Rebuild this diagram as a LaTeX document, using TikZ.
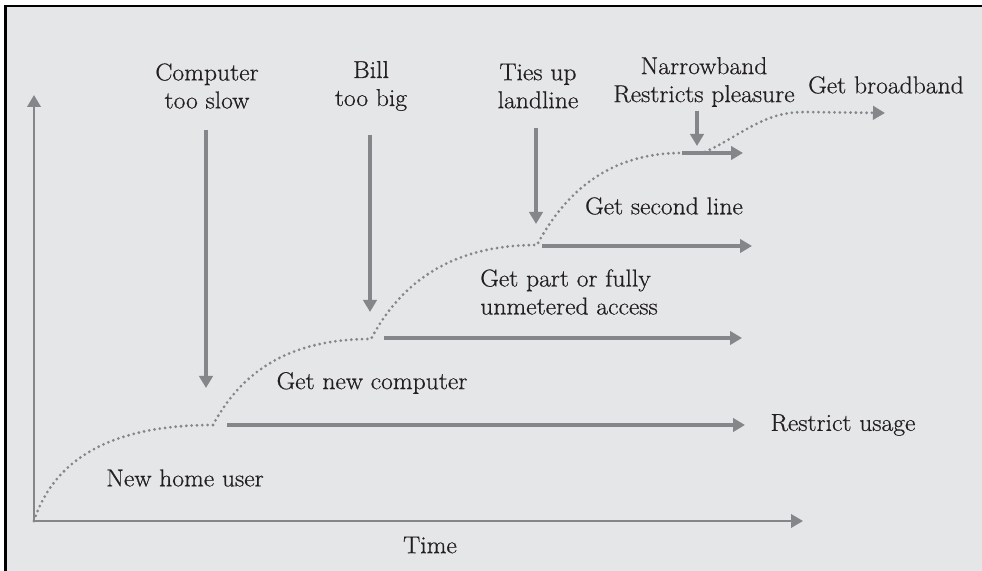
\documentclass[tikz,border=0pt]{standalone}
\usepackage{fontspec}
\setmainfont{Latin Modern Roman}[FakeStretch=1.05, FakeBold=0.6]
\usetikzlibrary{arrows.meta}
\definecolor{bg}{HTML}{E5E6E8}
\definecolor{ln}{HTML}{85868A}
\definecolor{ink}{HTML}{231F20}

\begin{document}
\begin{tikzpicture}[x=0.75pt,y=0.75pt,
  lbl/.style={font=\fontsize{18.3}{21}\selectfont, text=ink, align=center, inner sep=0pt},
  arr/.style={draw=ln, line width=2.3pt, -{Triangle[length=9pt,width=10pt]}},
  axis/.style={draw=ln, line width=2.1pt, -{Triangle[length=9pt,width=10pt]}},
  dots/.style={draw=ln, line width=2.3pt, dash pattern=on 0pt off 4pt, line cap=round},
  dotarr/.style={dots, -{Triangle[length=9pt,width=10pt,line cap=butt]}}]

% page and frame
\useasboundingbox (0,0) rectangle (982,571);
\fill[white] (0,0) rectangle (982,571);
\fill[bg] (5,0) rectangle (982,565);
\draw[black, line width=1.9pt] (5.3,0) -- (5.3,565) -- (982,565);

% key points
\coordinate (O) at (34,50);
\coordinate (ytop) at (34,476);
\coordinate (xtip) at (803,50);
\coordinate (s1) at (213,146);
\coordinate (s2) at (371,232);
\coordinate (s3) at (537,326);
\coordinate (s4) at (682,418);
\coordinate (h1a) at (227,146);  \coordinate (h1b) at (745,146);
\coordinate (h2a) at (384,233);  \coordinate (h2b) at (742,233);
\coordinate (h3a) at (542,325);  \coordinate (h3b) at (752,325);
\coordinate (h4a) at (682,418);  \coordinate (h4b) at (743,418);
\coordinate (v1a) at (206,441);  \coordinate (v1b) at (206,183);
\coordinate (v2a) at (370,436);  \coordinate (v2b) at (370,259);
\coordinate (v3a) at (536,443);  \coordinate (v3b) at (536,347);
\coordinate (v4a) at (697,460);  \coordinate (v4b) at (697,425);
\coordinate (b0) at (705,419);
\coordinate (b1) at (805,459);
\coordinate (b2) at (885,458);

% axes
\draw[axis] (O) -- (ytop);
\draw[axis] (O) -- (xtip);

% dotted growth path
\draw[dots] (O) to[out=72,in=180] (s1)
                to[out=62,in=180] (s2)
                to[out=62,in=180] (s3)
                to[out=62,in=180] (s4);
\draw[dotarr] (b0) to[out=25,in=180] (b1) -- (b2);

% horizontal options
\draw[arr] (h1a) -- (h1b);
\draw[arr] (h2a) -- (h2b);
\draw[arr] (h3a) -- (h3b);
\draw[arr] (h4a) -- (h4b);

% pressures from above
\draw[arr] (v1a) -- (v1b);
\draw[arr] (v2a) -- (v2b);
\draw[arr] (v3a) -- (v3b);
\draw[arr] (v4a) -- (v4b);

% labels
\node[lbl] (tslow) at (207,485) {Computer\\too slow};
\node[lbl] (tbill) at (371,485) {Bill\\too big};
\node[lbl] (ttie) at (538,485) {Ties up\\landline};
\node[lbl] (tnarrow) at (704,489) {Narrowband\\Restricts pleasure};
\node[lbl] (tbroad) at (886,486) {Get broadband};
\node[lbl] (tnew) at (185,93) {New home user};
\node[lbl] (tcomp) at (372,188) {Get new computer};
\node[lbl, align=left, anchor=west] (tpart) at (480,279) {Get part or fully\\unmetered access};
\node[lbl] (tsecond) at (664,365) {Get second line};
\node[lbl] (trestrict) at (843,146) {Restrict usage};
\node[lbl] (ttime) at (430,26) {Time};
\end{tikzpicture}
\end{document}
